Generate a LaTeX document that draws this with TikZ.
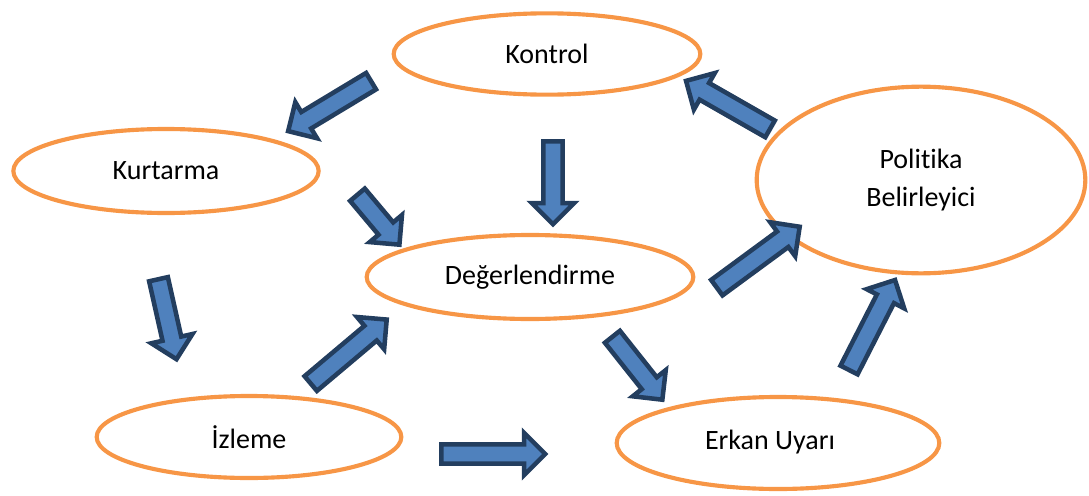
\documentclass[tikz,border=0pt]{standalone}
\usepackage{fontspec}
\setmainfont{Carlito}[Ligatures={NoCommon}]
\usetikzlibrary{shapes.geometric,shapes.arrows,calc}

\definecolor{ringorange}{HTML}{F79646}
\definecolor{arrowfill}{HTML}{4F81BD}
\definecolor{arrowedge}{HTML}{233E5F}

\tikzset{
  stage/.style={ellipse, draw=ringorange, line width=3.1pt, fill=white,
    inner sep=0pt, font=\fontsize{21}{28.5}\selectfont, align=center},
  blockarrow/.style={single arrow, draw=arrowedge, fill=arrowfill,
    line width=3.4pt, inner xsep=0pt, inner ysep=5.5pt,
    single arrow head extend=8.6pt, single arrow tip angle=90},
}

% block arrow between two named coordinates
\newcommand\flowarrow[2]{%
  \path let \p1=($(#2)-(#1)$), \n1={atan2(\y1,\x1)}, \n2={veclen(\x1,\y1)} in
    node[blockarrow, rotate=\n1, minimum height=\n2, anchor=tail] at (#1) {};}

\begin{document}
\begin{tikzpicture}[x=0.75pt, y=-0.75pt]
\useasboundingbox (0,0) rectangle (1089,496);

% stages of the cycle
\node[stage, minimum width=230pt, minimum height=61pt] (kontrol) at (547,54) {Kontrol};
\node[stage, minimum width=229pt, minimum height=63pt] (kurtarma) at (166,171) {Kurtarma};
\node[stage, minimum width=245pt, minimum height=63pt] (deger) at (530,277) {Değerlendirme};
\node[stage, minimum width=246.5pt, minimum height=140pt] (politika) at (921,180) {Politika\\Belirleyici};
\node[stage, minimum width=228.5pt, minimum height=61.5pt] (izleme) at (249,437) {İzleme};
\node[stage, minimum width=242pt, minimum height=69pt] (erkan) at (778,443) {};
\node (erkanlbl) at (770,442) [font=\fontsize{21}{28.5}\selectfont] {Erkan Uyarı};

% arrow end points
\coordinate (kon-kur-a) at (373,80);   \coordinate (kon-kur-b) at (290,130);
\coordinate (kon-deg-a) at (553,139);  \coordinate (kon-deg-b) at (553,222);
\coordinate (kur-deg-a) at (356,193);  \coordinate (kur-deg-b) at (398,243);
\coordinate (kur-izl-a) at (158,277);  \coordinate (kur-izl-b) at (176,357);
\coordinate (izl-deg-a) at (309,385);  \coordinate (izl-deg-b) at (385,321);
\coordinate (izl-erk-a) at (439,454);  \coordinate (izl-erk-b) at (543,454);
\coordinate (deg-erk-a) at (611,335);  \coordinate (deg-erk-b) at (661,398);
\coordinate (deg-pol-a) at (715,289);  \coordinate (deg-pol-b) at (798,228);
\coordinate (erk-pol-a) at (848,372);  \coordinate (erk-pol-b) at (894,282);
\coordinate (pol-kon-a) at (772,130);  \coordinate (pol-kon-b) at (688,82);

% flow of the cycle
\flowarrow{kon-kur-a}{kon-kur-b}
\flowarrow{kon-deg-a}{kon-deg-b}
\flowarrow{kur-deg-a}{kur-deg-b}
\flowarrow{kur-izl-a}{kur-izl-b}
\flowarrow{izl-deg-a}{izl-deg-b}
\flowarrow{izl-erk-a}{izl-erk-b}
\flowarrow{deg-erk-a}{deg-erk-b}
\flowarrow{deg-pol-a}{deg-pol-b}
\flowarrow{erk-pol-a}{erk-pol-b}
\flowarrow{pol-kon-a}{pol-kon-b}
\end{tikzpicture}
\end{document}
